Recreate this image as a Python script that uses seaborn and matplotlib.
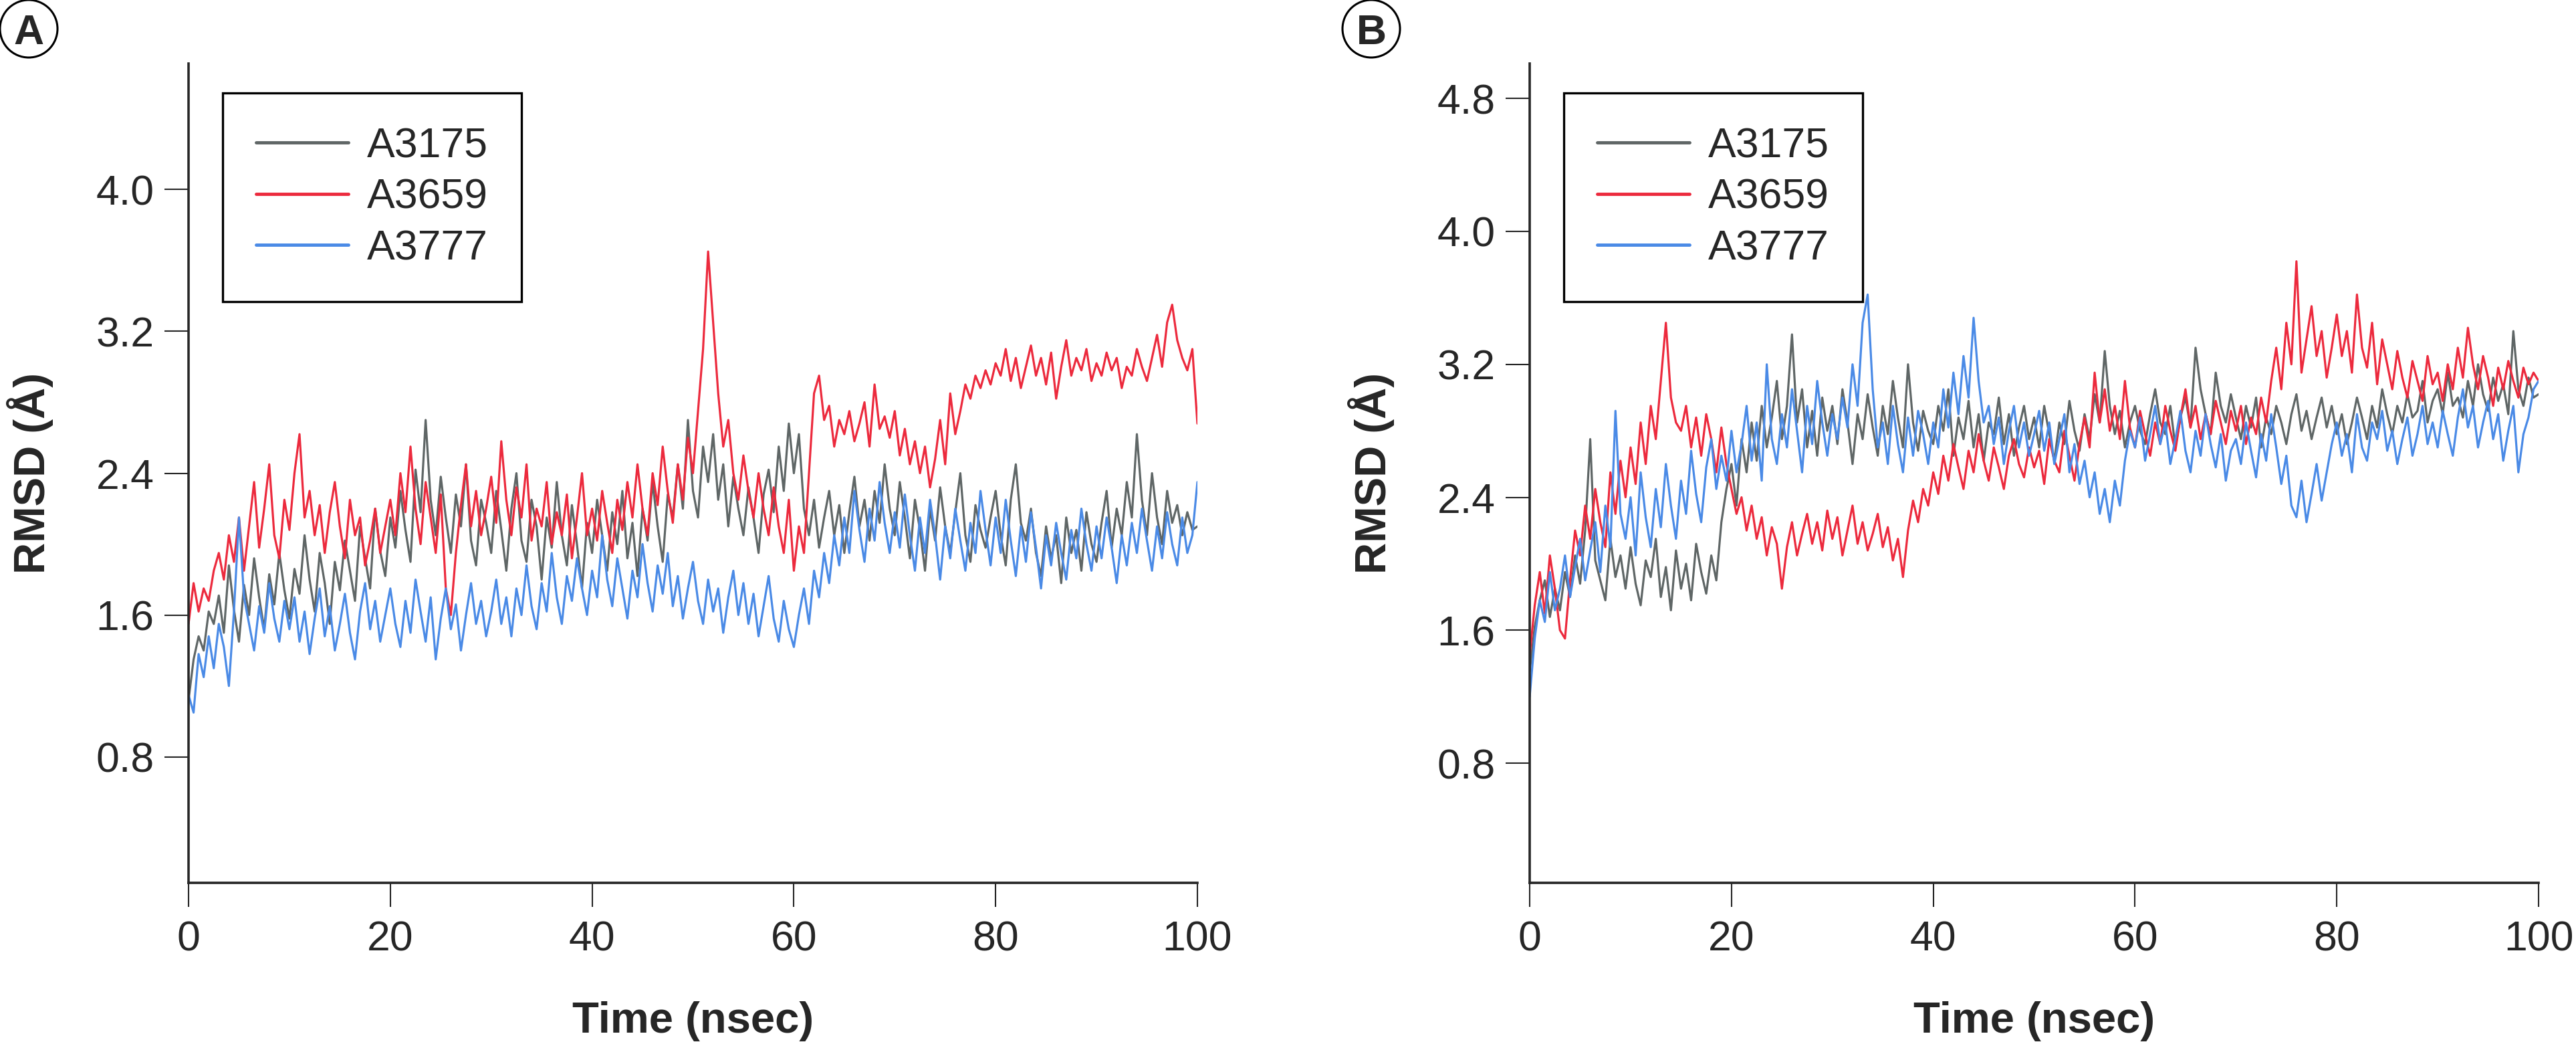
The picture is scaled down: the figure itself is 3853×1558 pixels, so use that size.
import numpy as np
import pandas as pd
import matplotlib
matplotlib.use("Agg")
import matplotlib.pyplot as plt
from matplotlib.patches import Ellipse
import seaborn as sns

# time axis, one frame every 0.5 ns
time_ns = np.arange(0, 100.5, 0.5)
names = ["A3175", "A3659", "A3777"]
colors = ["#5f6666", "#ec2a3d", "#4a8ae6"]

# ---- panel A ----
a_3175 = [
    1.12, 1.35, 1.48, 1.40, 1.62, 1.55, 1.71, 1.50, 1.88, 1.63, 1.45, 1.77, 1.60, 1.92, 1.70, 1.52, 1.83, 1.66, 1.95, 1.74,
    1.58, 1.86, 1.72, 2.05, 1.80, 1.62, 1.95, 1.78, 1.55, 1.90, 1.74, 2.02, 1.85, 1.68, 2.10, 1.92, 1.75, 2.20, 1.96, 1.82,
    2.15, 1.98, 2.30, 2.08, 1.90, 2.42, 2.18, 2.70, 2.25, 2.05, 2.38, 2.15, 1.95, 2.28, 2.10, 2.45, 2.02, 1.88, 2.25, 2.12,
    1.95, 2.30, 2.08, 1.85, 2.20, 2.40, 2.02, 1.90, 2.25, 2.10, 1.80, 2.15, 1.98, 2.35, 2.05, 1.88, 2.22, 2.00, 1.75, 2.12,
    1.95, 2.25, 2.05, 1.85, 2.18, 2.00, 2.30, 1.92, 2.12, 1.82, 2.20, 2.02, 2.35, 2.10, 1.90, 2.28, 2.15, 2.45, 2.20, 2.70,
    2.30, 2.15, 2.55, 2.35, 2.62, 2.25, 2.45, 2.10, 2.38, 2.20, 2.05, 2.32, 2.15, 1.95, 2.28, 2.42, 2.18, 2.55, 2.30, 2.68,
    2.40, 2.62, 2.20, 2.05, 2.25, 1.98, 2.15, 2.30, 2.05, 2.22, 1.95, 2.18, 2.38, 2.10, 2.25, 2.02, 2.30, 2.12, 2.45, 2.20,
    2.05, 2.35, 2.15, 1.92, 2.25, 2.08, 1.85, 2.20, 2.02, 2.32, 2.10, 1.95, 2.18, 2.40, 2.05, 1.90, 2.22, 2.08, 1.98, 2.15,
    2.30, 2.05, 1.88, 2.25, 2.45, 2.12, 2.02, 2.20, 1.95, 1.82, 2.10, 1.92, 2.05, 1.78, 2.15, 1.95, 2.08, 1.85, 2.18, 2.00,
    1.90, 2.12, 2.30, 1.98, 2.20, 2.05, 2.35, 2.15, 2.62, 2.25, 2.05, 2.40, 2.15, 2.00, 2.30, 2.12, 2.22, 2.05, 2.18, 2.08,
    2.10,
]
a_3659 = [
    1.55, 1.78, 1.62, 1.75, 1.68, 1.85, 1.95, 1.80, 2.05, 1.90, 2.15, 1.85, 2.10, 2.35, 1.98, 2.20, 2.45, 2.05, 1.92, 2.25,
    2.08, 2.40, 2.62, 2.15, 2.30, 2.05, 2.22, 1.95, 2.18, 2.35, 2.10, 1.92, 2.25, 2.05, 2.15, 1.88, 2.02, 2.20, 1.95, 2.10,
    2.25, 2.05, 2.40, 2.18, 2.55, 2.20, 2.00, 2.35, 2.15, 1.95, 2.28, 1.75, 1.60, 1.95, 2.22, 2.45, 2.10, 2.30, 2.05, 2.20,
    2.38, 2.12, 2.58, 2.25, 2.05, 2.32, 2.15, 2.45, 2.02, 2.20, 2.10, 2.35, 2.00, 2.18, 2.05, 2.28, 1.92, 2.15, 2.40, 2.05,
    2.20, 2.02, 2.30, 2.12, 1.95, 2.25, 2.08, 2.35, 2.15, 2.45, 2.20, 2.05, 2.40, 2.22, 2.55, 2.30, 2.12, 2.45, 2.25, 2.60,
    2.40, 2.75, 3.10, 3.65, 3.25, 2.85, 2.55, 2.70, 2.40, 2.25, 2.50, 2.30, 2.15, 2.40, 2.20, 2.05, 2.32, 2.10, 1.95, 2.25,
    1.85, 2.10, 1.95, 2.40, 2.85, 2.95, 2.70, 2.78, 2.55, 2.70, 2.62, 2.75, 2.58, 2.68, 2.80, 2.55, 2.90, 2.65, 2.72, 2.60,
    2.75, 2.50, 2.65, 2.45, 2.58, 2.40, 2.55, 2.32, 2.48, 2.70, 2.45, 2.85, 2.62, 2.75, 2.90, 2.82, 2.95, 2.88, 2.98, 2.90,
    3.02, 2.95, 3.10, 2.92, 3.05, 2.88, 3.00, 3.12, 2.95, 3.05, 2.90, 3.08, 2.82, 3.00, 3.15, 2.95, 3.05, 2.98, 3.10, 2.92,
    3.02, 2.95, 3.08, 2.98, 3.05, 2.88, 3.00, 2.95, 3.10, 3.00, 2.92, 3.05, 3.18, 3.00, 3.25, 3.35, 3.15, 3.05, 2.98, 3.10,
    2.68,
]
a_3777 = [
    1.15, 1.05, 1.38, 1.25, 1.48, 1.30, 1.55, 1.42, 1.20, 1.62, 2.15, 1.70, 1.55, 1.40, 1.65, 1.50, 1.78, 1.58, 1.45, 1.68,
    1.52, 1.70, 1.45, 1.62, 1.38, 1.58, 1.75, 1.48, 1.65, 1.40, 1.55, 1.72, 1.50, 1.35, 1.62, 1.78, 1.52, 1.68, 1.45, 1.60,
    1.75, 1.55, 1.42, 1.68, 1.50, 1.80, 1.62, 1.45, 1.70, 1.35, 1.58, 1.75, 1.52, 1.66, 1.40, 1.60, 1.78, 1.55, 1.68, 1.48,
    1.62, 1.80, 1.55, 1.70, 1.48, 1.75, 1.60, 1.88, 1.65, 1.52, 1.78, 1.62, 1.95, 1.70, 1.55, 1.82, 1.68, 1.92, 1.75, 1.60,
    1.85, 1.70, 2.05, 1.80, 1.65, 1.92, 1.75, 1.58, 1.85, 1.70, 2.00, 1.78, 1.62, 1.88, 1.72, 1.95, 1.65, 1.82, 1.58, 1.75,
    1.90, 1.68, 1.55, 1.80, 1.62, 1.75, 1.50, 1.70, 1.85, 1.60, 1.78, 1.55, 1.72, 1.48, 1.65, 1.82, 1.58, 1.45, 1.68, 1.52,
    1.42, 1.60, 1.75, 1.55, 1.85, 1.70, 1.95, 1.78, 2.05, 1.88, 2.15, 1.95, 2.30, 2.08, 1.90, 2.20, 2.02, 2.35, 2.12, 1.95,
    2.18, 1.98, 2.28, 2.05, 1.85, 2.15, 1.95, 2.25, 2.05, 1.80, 2.10, 1.92, 2.20, 2.02, 1.85, 2.12, 1.95, 2.30, 2.08, 1.88,
    2.15, 1.95, 2.25, 2.02, 1.82, 2.10, 1.90, 2.18, 1.98, 1.75, 2.05, 1.88, 2.12, 1.95, 1.80, 2.08, 1.92, 2.20, 2.00, 1.85,
    2.10, 1.92, 2.15, 1.98, 1.78, 2.05, 1.88, 2.12, 1.95, 2.20, 2.02, 1.85, 2.10, 1.92, 2.18, 2.00, 1.88, 2.15, 1.95, 2.05,
    2.35,
]

# ---- panel B ----
b_3175 = [
    1.35, 1.62, 1.78, 1.90, 1.68, 1.85, 1.72, 1.95, 1.80, 2.05, 1.88, 2.20, 2.75, 2.02, 1.90, 1.78, 2.15, 1.92, 2.05, 1.85,
    2.10, 1.88, 1.75, 2.02, 1.92, 2.15, 1.80, 1.98, 1.72, 2.08, 1.85, 2.00, 1.78, 2.12, 1.95, 1.82, 2.05, 1.90, 2.25, 2.45,
    2.60, 2.35, 2.75, 2.55, 2.85, 2.62, 2.95, 2.70, 2.88, 3.10, 2.75, 2.95, 3.38, 2.85, 3.05, 2.70, 2.92, 2.65, 3.00, 2.80,
    2.95, 2.72, 3.05, 2.85, 2.60, 2.90, 2.75, 3.02, 2.82, 2.65, 2.95, 2.78, 3.10, 2.88, 2.70, 3.20, 2.85, 2.68, 2.92, 2.80,
    2.72, 2.95, 2.80, 3.05, 2.65, 2.88, 2.75, 2.98, 2.70, 2.90, 2.62, 2.85, 2.78, 3.00, 2.72, 2.90, 2.65, 2.82, 2.95, 2.75,
    2.88, 2.70, 2.95, 2.78, 2.62, 2.85, 2.72, 2.98, 2.80, 2.68, 2.90, 2.75, 3.02, 2.85, 3.28, 2.95, 2.78, 2.92, 2.70, 2.85,
    2.95, 2.80, 2.72, 2.90, 3.05, 2.85, 2.78, 2.95, 2.70, 2.88, 3.00, 2.82, 3.30, 3.05, 2.90, 2.78, 3.15, 2.95, 2.85, 3.02,
    2.88, 2.75, 2.95, 2.82, 3.00, 2.70, 2.88, 2.78, 2.95, 2.85, 2.72, 2.90, 3.02, 2.80, 2.92, 2.75, 2.88, 3.00, 2.82, 2.95,
    2.78, 2.90, 2.72, 2.85, 3.00, 2.88, 2.75, 2.95, 2.82, 3.05, 2.90, 2.78, 2.95, 2.85, 3.02, 2.88, 2.92, 3.10, 2.85, 2.98,
    3.05, 2.90, 3.15, 2.95, 3.00, 2.88, 3.10, 2.95, 3.20, 3.02, 2.92, 3.12, 2.98, 3.08, 2.90, 3.40, 3.05, 2.95, 3.12, 3.00,
    3.02,
]
b_3659 = [
    1.45, 1.75, 1.95, 1.70, 2.05, 1.85, 1.60, 1.55, 1.90, 2.20, 2.05, 2.35, 2.15, 2.45, 2.25, 2.10, 2.55, 2.30, 2.62, 2.40,
    2.70, 2.48, 2.85, 2.60, 2.95, 2.75, 3.10, 3.45, 3.00, 2.85, 2.80, 2.95, 2.70, 2.88, 2.65, 2.90, 2.75, 2.55, 2.82, 2.60,
    2.45, 2.30, 2.40, 2.20, 2.35, 2.15, 2.28, 2.05, 2.22, 2.12, 1.85, 2.10, 2.25, 2.05, 2.18, 2.30, 2.12, 2.25, 2.08, 2.32,
    2.15, 2.28, 2.05, 2.20, 2.35, 2.12, 2.25, 2.08, 2.18, 2.30, 2.10, 2.22, 2.02, 2.15, 1.92, 2.20, 2.38, 2.25, 2.45, 2.35,
    2.55, 2.42, 2.65, 2.50, 2.72, 2.58, 2.45, 2.68, 2.55, 2.78, 2.62, 2.50, 2.70, 2.58, 2.45, 2.65, 2.75, 2.60, 2.52, 2.70,
    2.58, 2.68, 2.48, 2.75, 2.62, 2.55, 2.80, 2.65, 2.50, 2.72, 2.88, 2.70, 3.15, 2.85, 3.05, 2.80, 2.95, 2.75, 3.10, 2.82,
    2.70, 2.92, 2.78, 2.65, 2.85, 2.72, 2.95, 2.80, 2.68, 2.88, 3.05, 2.82, 2.95, 2.75, 2.90, 2.78, 2.98, 2.85, 2.72, 2.92,
    2.80, 2.95, 2.72, 2.88, 2.78, 3.00, 2.85, 3.10, 3.30, 3.05, 3.45, 3.20, 3.82, 3.15, 3.35, 3.55, 3.25, 3.40, 3.12, 3.30,
    3.50, 3.25, 3.40, 3.15, 3.62, 3.30, 3.18, 3.45, 3.08, 3.35, 3.20, 3.05, 3.28, 3.12, 3.00, 3.22, 3.10, 2.98, 3.25, 3.08,
    3.15, 2.98, 3.20, 3.05, 3.30, 3.12, 3.42, 3.20, 3.05, 3.25, 3.12, 2.95, 3.18, 3.05, 3.22, 3.10, 3.00, 3.18, 3.08, 3.15,
    3.10,
]
b_3777 = [
    1.20, 1.55, 1.78, 1.65, 1.95, 1.72, 1.85, 2.05, 1.80, 1.98, 2.15, 1.90, 2.08, 2.25, 1.95, 2.35, 2.10, 2.92, 2.30, 2.15,
    2.40, 2.05, 2.55, 2.28, 2.10, 2.45, 2.22, 2.60, 2.35, 2.15, 2.50, 2.30, 2.68, 2.42, 2.25, 2.58, 2.75, 2.45, 2.65, 2.50,
    2.80, 2.55, 2.72, 2.95, 2.62, 2.85, 2.50, 3.20, 2.75, 2.60, 2.90, 2.70, 3.05, 2.80, 2.55, 2.95, 2.72, 3.10, 2.85, 2.65,
    2.90, 2.75, 3.00, 2.82, 3.20, 2.95, 3.45, 3.62, 3.05, 2.70, 2.85, 2.60, 2.95, 2.72, 2.55, 2.88, 2.65, 2.92, 2.78, 2.60,
    2.85, 2.70, 3.05, 2.82, 3.15, 2.90, 3.25, 3.00, 3.48, 3.10, 2.85, 2.95, 2.72, 2.88, 2.60, 2.80, 2.95, 2.70, 2.85, 2.65,
    2.78, 2.92, 2.68, 2.85, 2.60, 2.75, 2.90, 2.55, 2.72, 2.48, 2.62, 2.40, 2.55, 2.30, 2.45, 2.25, 2.50, 2.35, 2.62, 2.80,
    2.70, 2.88, 2.62, 2.78, 2.95, 2.72, 2.85, 2.60, 2.75, 2.92, 2.68, 2.55, 2.80, 2.65, 2.90, 2.72, 2.58, 2.78, 2.50, 2.68,
    2.75, 2.60, 2.85, 2.68, 2.52, 2.78, 2.62, 2.90, 2.70, 2.48, 2.65, 2.35, 2.28, 2.50, 2.25, 2.42, 2.60, 2.38, 2.55, 2.72,
    2.85, 2.65, 2.78, 2.55, 2.90, 2.70, 2.62, 2.85, 2.75, 2.92, 2.68, 2.80, 2.60, 2.75, 2.88, 2.65, 2.78, 2.95, 2.72, 2.85,
    2.70, 2.92, 2.78, 2.65, 2.88, 3.05, 2.82, 2.95, 2.70, 2.85, 2.98, 2.75, 2.90, 2.62, 2.80, 2.95, 2.55, 2.78, 2.88, 3.05,
    3.10,
]

panels = [
    ("A", [a_3175, a_3659, a_3777], (0.09, 4.71), [0.8, 1.6, 2.4, 3.2, 4.0]),
    ("B", [b_3175, b_3659, b_3777], (0.08, 5.01), [0.8, 1.6, 2.4, 3.2, 4.0, 4.8]),
]

sns.set_style("ticks")
plt.rcParams["font.family"] = ["Liberation Sans", "DejaVu Sans"]

W, H = 3853, 1558
fig = plt.figure(figsize=(W / 100, H / 100), dpi=100)

ax_left = [282, 2288]
ax_w = 1509
ax_top, ax_bot = 95, 1320

for i, (tag, series, ylim, yticks) in enumerate(panels):
    ax = fig.add_axes([ax_left[i] / W, 1 - ax_bot / H, ax_w / W, (ax_bot - ax_top) / H])
    df = pd.DataFrame({
        "time": np.tile(time_ns, 3),
        "rmsd": np.concatenate(series),
        "system": np.repeat(names, len(time_ns)),
    })
    sns.lineplot(data=df, x="time", y="rmsd", hue="system", palette=colors,
                 estimator=None, linewidth=2.3, ax=ax)
    ax.set_xlim(0, 100)
    ax.set_ylim(*ylim)
    ax.set_xticks([0, 20, 40, 60, 80, 100])
    ax.set_yticks(yticks)
    ax.set_yticklabels([f"{v:.1f}" for v in yticks])
    sns.despine(ax=ax)
    for s in ["left", "bottom"]:
        ax.spines[s].set_linewidth(2.6)
    ax.tick_params(direction="out", length=26, width=1.5, labelsize=45)
    ax.tick_params(axis="y", pad=11)
    ax.tick_params(axis="x", pad=14)
    ax.set_xlabel("Time (nsec)", fontsize=47, fontweight="bold", va="top")
    ax.set_ylabel("RMSD (Å)", fontsize=47, fontweight="bold")
    ax.xaxis.set_label_coords(0.5, -177 / 1225)
    ax.yaxis.set_label_coords(-202 / 1509, 0.5)

    leg = ax.legend(loc="upper left", bbox_to_anchor=(0.034, 0.964), frameon=True,
                    fancybox=False, edgecolor="black", framealpha=1, fontsize=45,
                    handlelength=2.2, handletextpad=0.45, labelspacing=0.28,
                    borderpad=0.8, borderaxespad=0, title=None)
    leg.get_frame().set_linewidth(2.4)
    for ln in leg.get_lines():
        ln.set_linewidth(3.5)

    # circled panel letter
    cx = [43, 2051][i]
    fig.patches.append(Ellipse((cx / W, 1 - 43 / H), 86 / W, 86 / H,
                               transform=fig.transFigure, fill=False, lw=2.2, ec="black"))
    fig.text(cx / W, 1 - 43 / H, tag, fontsize=45, fontweight="bold",
             ha="center", va="center_baseline")

fig.savefig("out.png", dpi=100)
